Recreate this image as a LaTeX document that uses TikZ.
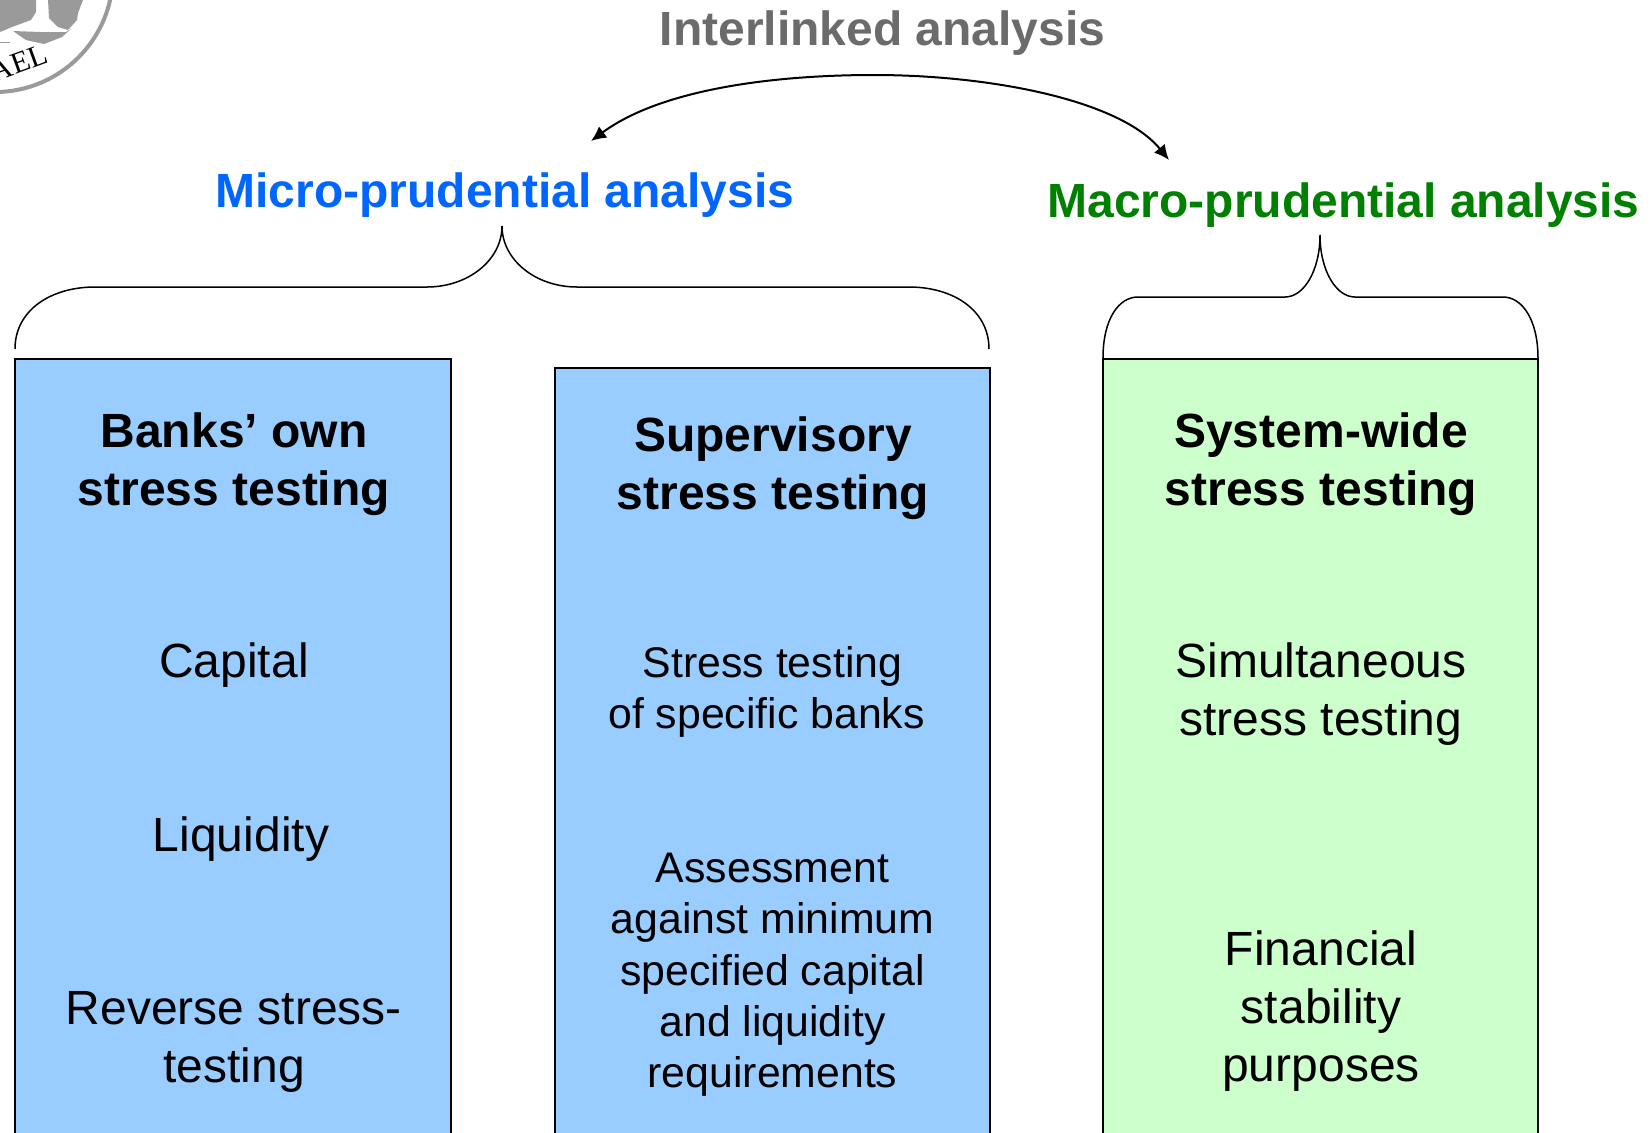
\documentclass[tikz,border=0pt]{standalone}
\usepackage{fontspec}
\setmainfont{Liberation Sans}
\newfontfamily\sealfont{Liberation Serif}
\usetikzlibrary{arrows.meta}
\def\topbrace[#1](#2:#3:#4:#5:#6:#7:#8:#9){\draw[#1] (#2, #4) .. controls (#2, #4-39) and (#2+0.45*#8, #5) .. (#2+#8, #5) -- (#6-#9, #5) .. controls (#6-0.45*#9, #5) and (#6, #5-27) .. (#6, #3) .. controls (#6, #5-27) and (#6+0.45*#9, #5) .. (#6+#9, #5) -- (#7-#8, #5) .. controls (#7-0.45*#8, #5) and (#7, #5+23) .. (#7, #4);}
\definecolor{microblue}{HTML}{0066FF}
\definecolor{macrogreen}{HTML}{008000}
\definecolor{boxblue}{HTML}{99CCFF}
\definecolor{boxgreen}{HTML}{CCFFCC}
\definecolor{sealgrey}{HTML}{9A9A9A}
\tikzset{
	headtext/.style={font=\fontsize{48}{58}\selectfont\bfseries, align=center, inner sep=0pt},
	bodytext/.style={font=\fontsize{48}{58}\selectfont, align=center, inner sep=0pt},
	smalltext/.style={font=\fontsize{42.8}{51.3}\selectfont, align=center, inner sep=0pt},
	bluebox/.style={draw=black, line width=1.5pt, fill=boxblue},
	greenbox/.style={draw=black, line width=1.5pt, fill=boxgreen}
}

\begin{document}
\begin{tikzpicture}[x=1pt, y=-1pt]
			%%%%% START %%%%%
			
			\path[use as bounding box, clip] (0, 0) rectangle (1650, 1133);
			\fill[white] (0, 0) rectangle (1650, 1133);
			
			% seal in the corner
			\draw[line width=4pt, color=sealgrey] (-5, -26) circle (118);
			\fill[sealgrey] (0, 0) -- (36, 0) -- (36, 12) -- (31, 20) -- (12, 27) -- (0, 32) -- cycle;
			\fill[sealgrey] (48, 0) -- (83, 0) -- (78, 13) -- (77, 20) -- (68, 30) -- (58, 27) -- (49, 18) -- cycle;
			\fill[sealgrey] (13, 31) -- (40, 32) -- (66, 32) -- (71, 29) -- (62, 37) -- (44, 44) -- (26, 40) -- cycle;
			\draw[line width=0.8pt, color=sealgrey] (0, 42) -- (10, 42);
			\node[font=\sealfont\fontsize{30}{30}\selectfont, rotate=20, inner sep=0pt] (seal) at (19, 63) {AEL};
			
			\draw[bluebox] (15, 359) rectangle (451, 1150);
			\draw[bluebox] (555, 368) rectangle (990, 1150);
			\draw[greenbox] (1103, 359) rectangle (1538, 1150);
			
			\node[headtext, color=black!58] (interlinked) at (882.5, 33.5) {Interlinked analysis};
			\node[headtext, color=microblue] (micro) at (505, 195) {Micro-prudential analysis};
			\node[headtext, color=macrogreen] (macro) at (1343.5, 205) {Macro-prudential analysis};
			
			\coordinate (leftend) at (591, 141);
			\coordinate (rightend) at (1169, 160);
			\draw[line width=2pt, {Latex[length=15pt,width=14pt]}-{Latex[length=15pt,width=14pt]}] (leftend) .. controls (660, 90) and (770, 75) .. (874, 75) .. controls (990, 75) and (1120, 100) .. (rightend);
			
			\topbrace[line width=1.5pt](15:226:349:287:502:989:80:75);
			\topbrace[line width=1.5pt](1103:235:358:297:1320:1538:35:35);
			
			\node[headtext] (banks) at (234, 464) {Banks’ own\\stress testing};
			\node[headtext] (supervisory) at (773, 468) {Supervisory\\stress testing};
			\node[headtext] (system) at (1321, 464) {System-wide\\stress testing};
			
			\node[bodytext] (capital) at (234, 665.5) {Capital};
			\node[bodytext] (liquidity) at (241, 839) {Liquidity};
			\node[bodytext] (reverse) at (234, 1041.5) {Reverse stress-\\testing};
			
			\node[smalltext] (specific) at (772.5, 666) {Stress testing};
			\node[smalltext] (banksline) at (766.5, 717) {of specific banks};
			\node[smalltext] (assessment) at (772.5, 975) {Assessment\\against minimum\\specified capital\\and liquidity\\requirements};
			
			\node[bodytext] (simultaneous) at (1321, 694.5) {Simultaneous\\stress testing};
			\node[bodytext] (financial) at (1321, 1011.5) {Financial\\stability\\purposes};
			
			%%%%% END %%%%%
\end{tikzpicture}
\end{document}
